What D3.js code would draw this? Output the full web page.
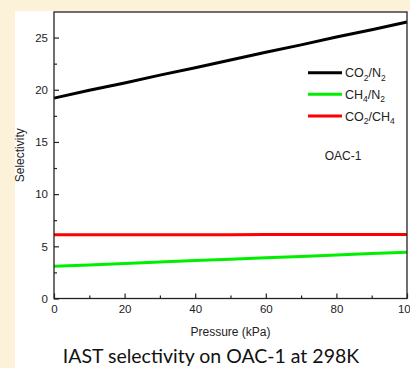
<!DOCTYPE html>
<html>
<head>
<meta charset="utf-8">
<script src="https://cdn.jsdelivr.net/npm/d3@7"></script>
<style>
  html, body { margin: 0; padding: 0; background: #fcf2da; }
  svg { display: block; }
  .tick text { font-family: "Liberation Sans", Arial, sans-serif; font-size: 11.5px; fill: #222; }
</style>
</head>
<body>
<script>
// Pressure points (kPa) and IAST selectivities for each gas pair
const pressure = [0, 10, 20, 30, 40, 50, 60, 70, 80, 90, 100];
const co2n2  = [19.2, 19.95, 20.65, 21.4, 22.1, 22.85, 23.6, 24.3, 25.05, 25.75, 26.5];
const ch4n2  = [3.09, 3.22, 3.36, 3.49, 3.63, 3.76, 3.90, 4.03, 4.17, 4.30, 4.43];
const co2ch4 = [6.10, 6.11, 6.11, 6.12, 6.12, 6.12, 6.13, 6.13, 6.13, 6.14, 6.14];

const seriesColors = ["#000000", "#00ee00", "#ff0000"];
const xTicks = [0, 20, 40, 60, 80, 100];
const xMinor = [10, 30, 50, 70, 90];
const yTicks = [0, 5, 10, 15, 20, 25];
const yMinor = [2.5, 7.5, 12.5, 17.5, 22.5];

const W = 410, H = 368;
const svg = d3.select("body").append("svg").attr("width", W).attr("height", H);

// white panel holding the figure
svg.append("rect").attr("x", 15).attr("y", 11).attr("width", W - 15).attr("height", H - 11).attr("fill", "#ffffff");

const plot = { left: 54, right: 407, top: 12, bottom: 298.5 };
const x = d3.scaleLinear().domain([0, 100]).range([plot.left, plot.right]);
const y = d3.scaleLinear().domain([0, 27.45]).range([plot.bottom, plot.top]);

// series lines
const all = [co2n2, ch4n2, co2ch4];
const line = d3.line().x((d, i) => x(pressure[i])).y(d => y(d));
all.forEach((vals, k) => {
  svg.append("path").datum(vals)
    .attr("d", line)
    .attr("fill", "none")
    .attr("stroke", seriesColors[k])
    .attr("stroke-width", 3);
});

// frame
svg.append("rect")
  .attr("x", plot.left).attr("y", plot.top)
  .attr("width", plot.right - plot.left).attr("height", plot.bottom - plot.top)
  .attr("fill", "none").attr("stroke", "#222").attr("stroke-width", 1.3);

// axes with inward ticks
const xAxis = svg.append("g").attr("transform", `translate(0,${plot.bottom})`)
  .call(d3.axisBottom(x).tickValues(xTicks).tickSize(-5).tickPadding(6).tickFormat(d3.format("d")));
xAxis.select(".domain").remove();
xAxis.selectAll(".tick line").attr("stroke", "#222").attr("stroke-width", 1.2);
const xMin = svg.append("g").attr("transform", `translate(0,${plot.bottom})`)
  .call(d3.axisBottom(x).tickValues(xMinor).tickSize(-3).tickFormat(""));
xMin.select(".domain").remove();
xMin.selectAll(".tick line").attr("stroke", "#222").attr("stroke-width", 1.2);

const yAxis = svg.append("g").attr("transform", `translate(${plot.left},0)`)
  .call(d3.axisLeft(y).tickValues(yTicks).tickSize(-5).tickPadding(6).tickFormat(d3.format("d")));
yAxis.select(".domain").remove();
yAxis.selectAll(".tick line").attr("stroke", "#222").attr("stroke-width", 1.2);
const yMin = svg.append("g").attr("transform", `translate(${plot.left},0)`)
  .call(d3.axisLeft(y).tickValues(yMinor).tickSize(-3).tickFormat(""));
yMin.select(".domain").remove();
yMin.selectAll(".tick line").attr("stroke", "#222").attr("stroke-width", 1.2);

// axis titles
svg.append("text")
  .attr("transform", `translate(24,${(plot.top + plot.bottom) / 2}) rotate(-90)`)
  .attr("text-anchor", "middle")
  .attr("font-family", "Liberation Sans, Arial, sans-serif").attr("font-size", 12).attr("fill", "#222")
  .text("Selectivity");
svg.append("text")
  .attr("x", (plot.left + plot.right) / 2).attr("y", 336)
  .attr("text-anchor", "middle")
  .attr("font-family", "Liberation Sans, Arial, sans-serif").attr("font-size", 12).attr("fill", "#222")
  .text("Pressure (kPa)");

// legend with subscripted formulas
const legendLabels = [
  [["CO", false], ["2", true], ["/N", false], ["2", true]],
  [["CH", false], ["4", true], ["/N", false], ["2", true]],
  [["CO", false], ["2", true], ["/CH", false], ["4", true]]
];
const legendY = [72.7, 94.3, 116];
legendLabels.forEach((parts, k) => {
  svg.append("line")
    .attr("x1", 308).attr("x2", 342).attr("y1", legendY[k]).attr("y2", legendY[k])
    .attr("stroke", seriesColors[k]).attr("stroke-width", 3);
  const t = svg.append("text")
    .attr("x", 345).attr("y", legendY[k] + 4.5)
    .attr("font-family", "Liberation Sans, Arial, sans-serif").attr("font-size", 12.5).attr("fill", "#222");
  let shifted = false;
  parts.forEach(([s, sub]) => {
    const dy = sub ? (shifted ? 0 : 3.5) : (shifted ? -3.5 : 0);
    shifted = sub;
    t.append("tspan")
      .attr("font-size", sub ? 8.5 : 12.5)
      .attr("dy", dy)
      .text(s);
  });
});

svg.append("text")
  .attr("x", 343).attr("y", 160)
  .attr("text-anchor", "middle")
  .attr("font-family", "Liberation Sans, Arial, sans-serif").attr("font-size", 12).attr("fill", "#222")
  .text("OAC-1");

// caption
svg.append("text")
  .attr("x", 211).attr("y", 363)
  .attr("text-anchor", "middle")
  .attr("font-family", "Lato, sans-serif").attr("font-size", 19.5).attr("fill", "#111")
  .text("IAST selectivity on OAC-1 at 298K");
</script>
</body>
</html>
